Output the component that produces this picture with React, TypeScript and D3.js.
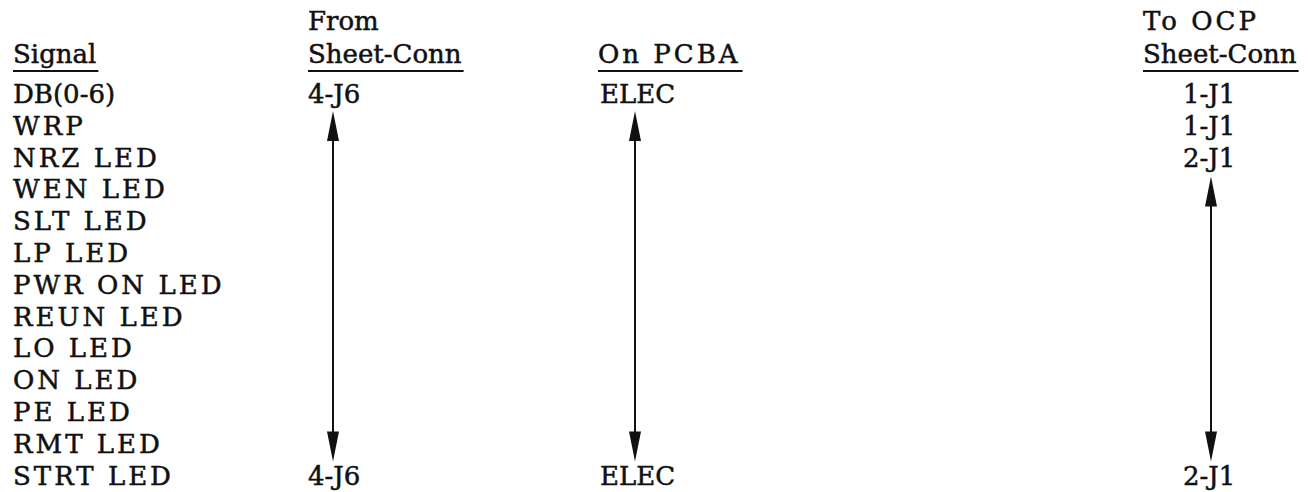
import React, { useEffect, useRef } from "react";
import * as d3 from "d3";

const signals = [
  "DB(0-6)", "WRP", "NRZ LED", "WEN LED", "SLT LED", "LP LED", "PWR ON LED",
  "REUN LED", "LO LED", "ON LED", "PE LED", "RMT LED", "STRT LED",
];
const fromConn = [
  { row: 0, label: "4-J6" },
  { row: 12, label: "4-J6" },
];
const pcba = [
  { row: 0, label: "ELEC" },
  { row: 12, label: "ELEC" },
];
const toConn = [
  { row: 0, label: "1-J1" },
  { row: 1, label: "1-J1" },
  { row: 2, label: "2-J1" },
  { row: 12, label: "2-J1" },
];
const headers = [
  { col: "signal", lines: ["", "Signal"] },
  { col: "from", lines: ["From", "Sheet-Conn"] },
  { col: "pcba", lines: ["", "On PCBA"] },
  { col: "to", lines: ["To OCP", "Sheet-Conn"] },
];
const arrows = [
  { col: "from", fromRow: 0, toRow: 12 },
  { col: "pcba", fromRow: 0, toRow: 12 },
  { col: "to", fromRow: 2, toRow: 12 },
];

const W = 1308;
const H = 492;

export default function App() {
  const ref = useRef<SVGSVGElement>(null);

  useEffect(() => {
    const svg = d3.select(ref.current);
    svg.selectAll("*").remove();
    const font = "'DejaVu Serif', serif";
    const fs = 26;
    const ink = "#111";

    const y = d3.scaleLinear().domain([0, signals.length - 1]).range([103, 484.6]);
    const colX = d3.scaleOrdinal<string, number>()
      .domain(["signal", "from", "pcba", "to"])
      .range([13, 308, 598, 1143]);
    const valX = d3.scaleOrdinal<string, number>()
      .domain(["signal", "from", "pcba", "to"])
      .range([13, 308, 600, 1183]);
    const arrowX = d3.scaleOrdinal<string, number>()
      .domain(["from", "pcba", "to"])
      .range([333, 635, 1211]);
    const headY = [30, 63];

    const addText = (x: number, yy: number, t: string, spacing: number) =>
      svg.append("text")
        .attr("x", x).attr("y", yy)
        .attr("font-family", font).attr("font-size", fs)
        .attr("fill", ink)
        .attr("stroke", ink).attr("stroke-width", 0.5)
        .attr("letter-spacing", spacing)
        .text(t);

    headers.forEach((h) => {
      h.lines.forEach((ln, i) => {
        if (!ln) return;
        const sp = ln === "On PCBA" || ln === "To OCP" ? 3 : 0;
        const node = addText(colX(h.col), headY[i], ln, sp);
        if (i === 1) {
          const len = (node.node() as SVGTextElement).getComputedTextLength();
          svg.append("line")
            .attr("x1", colX(h.col)).attr("x2", colX(h.col) + len + 2)
            .attr("y1", 71).attr("y2", 71)
            .attr("stroke", ink).attr("stroke-width", 2.2);
        }
      });
    });

    signals.forEach((s, i) => addText(valX("signal"), y(i), s, /^[A-Z ]+$/.test(s) ? 3 : 0));
    fromConn.forEach((d) => addText(valX("from"), y(d.row), d.label, 0));
    pcba.forEach((d) => addText(valX("pcba"), y(d.row), d.label, 0));
    toConn.forEach((d) => addText(valX("to"), y(d.row), d.label, 0));

    const headLen = 30;
    const headW = 6;
    arrows.forEach((a) => {
      const x = arrowX(a.col);
      const top = y(a.fromRow) + (a.fromRow === 0 ? 8 : 10);
      const bot = y(a.toRow) - 23;
      svg.append("line")
        .attr("x1", x).attr("x2", x)
        .attr("y1", top + headLen - 2).attr("y2", bot - headLen + 2)
        .attr("stroke", ink).attr("stroke-width", 2);
      const path = d3.path();
      path.moveTo(x, top);
      path.lineTo(x + headW, top + headLen);
      path.lineTo(x - headW, top + headLen);
      path.closePath();
      path.moveTo(x, bot);
      path.lineTo(x + headW, bot - headLen);
      path.lineTo(x - headW, bot - headLen);
      path.closePath();
      svg.append("path").attr("d", path.toString()).attr("fill", ink);
    });
  }, []);

  return (
    <svg
      ref={ref}
      width={W}
      height={H}
      style={{ position: "absolute", left: 0, top: 0, background: "#fff" }}
    />
  );
}
